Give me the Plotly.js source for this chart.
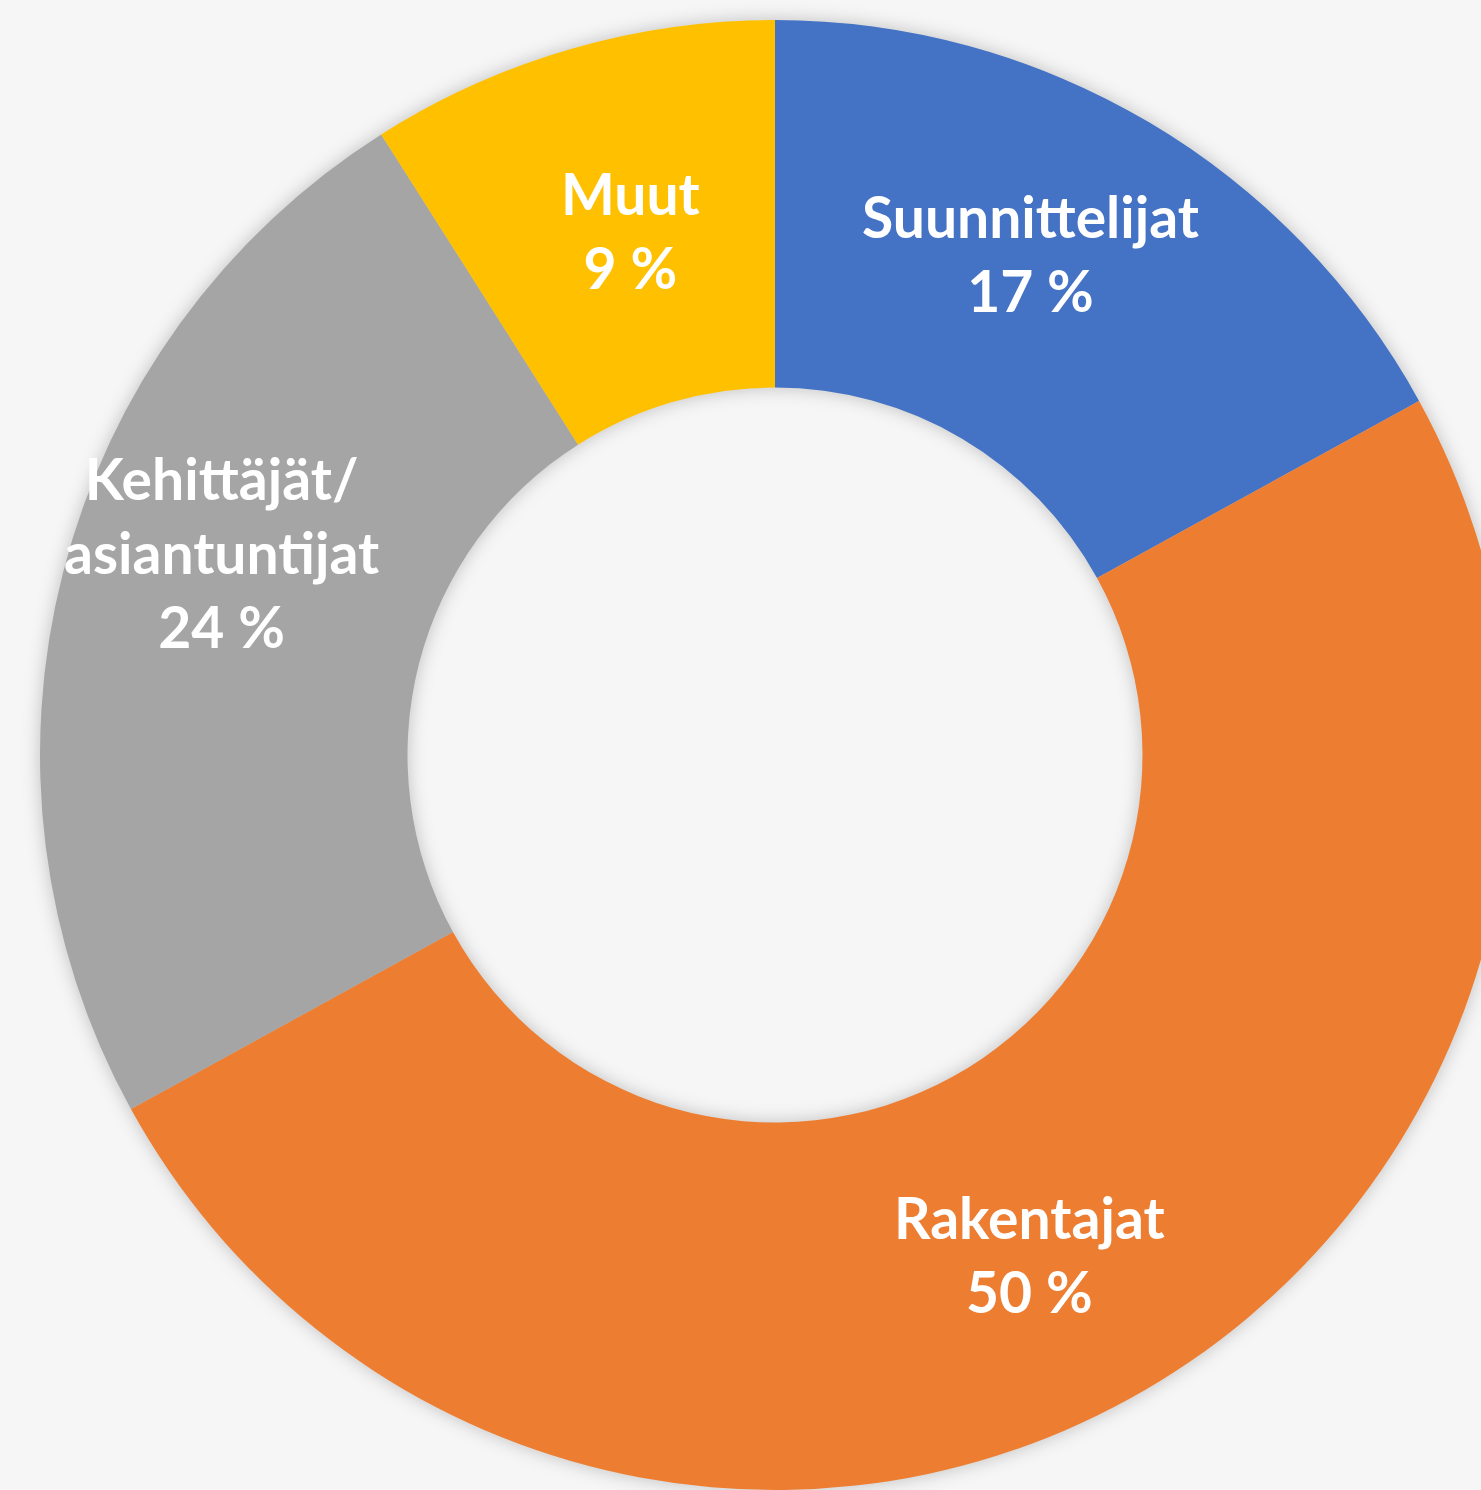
<!DOCTYPE html>
<html>
<head>
<meta charset="utf-8">
<script src="https://cdn.plot.ly/plotly-3.0.1.min.js"></script>
<style>
  html, body { margin: 0; padding: 0; background: #f6f6f6; overflow: hidden; }
  #chart { width: 1550px; height: 1490px; }
  #chart .pielayer { filter: drop-shadow(0px 0px 9px rgba(0,0,0,0.22)); }
</style>
</head>
<body>
<div id="chart"></div>
<script>
// ---- data ----
const categories = ["Suunnittelijat", "Rakentajat", "Kehittäjät/<br>asiantuntijat", "Muut"];
const values = [17, 50, 24, 9];
const colors = ["#4472C4", "#ED7D31", "#A5A5A5", "#FFC000"];

// ---- layout constants ----
const W = 1550, H = 1490;
const CX = 775, CY = 755, R = 735;
const labelR = 0.765 * R;
// small pixel nudges of the label blocks (layout only)
const labelShift = [[-31, -18], [-16, 6], [-9, -63], [12, 15]];

const total = values.reduce((a, b) => a + b, 0);
let cum = 0;
const annotations = values.map((v, i) => {
  const mid = (cum + v / 2) / total;
  cum += v;
  const th = mid * 2 * Math.PI;
  const px = CX + labelR * Math.sin(th) + labelShift[i][0];
  const py = CY - labelR * Math.cos(th) + labelShift[i][1];
  return {
    x: px / W, y: 1 - py / H, xref: "paper", yref: "paper",
    xanchor: "center", yanchor: "middle",
    text: "<b>" + categories[i] + "<br>" + Math.round(v / total * 100) + " %</b>",
    showarrow: false,
    align: "center",
    font: { family: "Lato, 'Open Sans', sans-serif", size: 57, color: "#ffffff" }
  };
});

const trace = {
  type: "pie",
  labels: categories,
  values: values,
  marker: { colors: colors, line: { width: 0 } },
  hole: 0.5,
  sort: false,
  direction: "clockwise",
  rotation: 0,
  textinfo: "none",
  hoverinfo: "none",
  domain: { x: [(CX - R) / W, (CX + R) / W], y: [1 - (CY + R) / H, 1 - (CY - R) / H] }
};

const layout = {
  width: W, height: H,
  margin: { l: 0, r: 0, t: 0, b: 0 },
  paper_bgcolor: "rgba(0,0,0,0)",
  plot_bgcolor: "rgba(0,0,0,0)",
  showlegend: false,
  annotations: annotations
};

Plotly.newPlot("chart", [trace], layout, { displayModeBar: false, staticPlot: true });
</script>
</body>
</html>
